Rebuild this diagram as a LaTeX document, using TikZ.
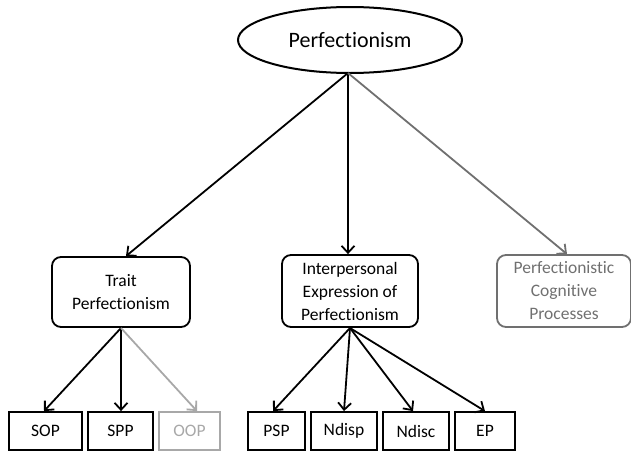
\documentclass[tikz,border=0pt]{standalone}
\usepackage{fontspec}
\setmainfont[Ligatures={NoCommon}]{Carlito}
\usetikzlibrary{arrows.meta,shapes.geometric}
\definecolor{midgray}{HTML}{707070}
\definecolor{lightgray2}{HTML}{A8A8A8}
\tikzset{
  box/.style={draw, line width=1.8pt, rounded corners=9pt, align=center, font=\fontsize{17.5}{23}\selectfont, inner sep=0pt},
  leaf/.style={draw, line width=1.8pt, align=center, font=\fontsize{17.5}{20}\selectfont, inner sep=0pt, minimum height=38pt},
  arr/.style={line width=1.8pt, -{Straight Barb[length=7pt,width=13pt,line width=1.8pt]}},
}
\begin{document}
\begin{tikzpicture}[x=1pt,y=-1pt]
\useasboundingbox (0,0) rectangle (631,450);
\node[draw, ellipse, line width=2pt, minimum width=224pt, minimum height=66pt, inner sep=0pt, font=\fontsize{22}{26}\selectfont] (perf) at (350,40) {Perfectionism};
\coordinate (src) at (348,73);

\node[box, minimum width=138pt, minimum height=70pt] (trait) at (121,292) {Trait\\Perfectionism};
\node[box, minimum width=136pt, minimum height=72pt] (inter) at (350,291) {Interpersonal\\Expression of\\Perfectionism};
\node[box, draw=midgray, text=midgray, minimum width=134pt, minimum height=72pt] (cogn) at (564,291) {Perfectionistic\\Cognitive\\Processes};

\node[leaf, minimum width=73pt] (sop) at (45.5,431) {SOP};
\node[leaf, minimum width=65pt] (spp) at (120.5,431) {SPP};
\node[leaf, draw=lightgray2, text=lightgray2, minimum width=61pt] (oop) at (189.5,431) {OOP};
\node[leaf, minimum width=57pt] (psp) at (276.5,431) {PSP};
\node[leaf, minimum width=66pt] (ndisp) at (344,431) {Ndisp};
\node[leaf, minimum width=66pt] (ndisc) at (416,431) {Ndisc};
\node[leaf, minimum width=60pt] (ep) at (485,431) {EP};

\coordinate (tb) at (121,328);
\coordinate (ib) at (350,328);

\draw[arr] (src) -- (trait.north -| 126,0);
\draw[arr] (src) -- (inter.north -| 348,0);
\draw[arr, draw=midgray] (src) -- (cogn.north -| 567,0);

\draw[arr] (tb) -- (sop.north -| 44,0);
\draw[arr] (tb) -- (spp.north -| 121,0);
\draw[arr, draw=lightgray2] (tb) -- (oop.north -| 197,0);

\draw[arr] (ib) -- (psp.north -| 273,0);
\draw[arr] (ib) -- (ndisp.north -| 344,0);
\draw[arr] (ib) -- (ndisc.north -| 413,0);
\draw[arr] (ib) -- (ep.north -| 485,0);
\end{tikzpicture}
\end{document}
